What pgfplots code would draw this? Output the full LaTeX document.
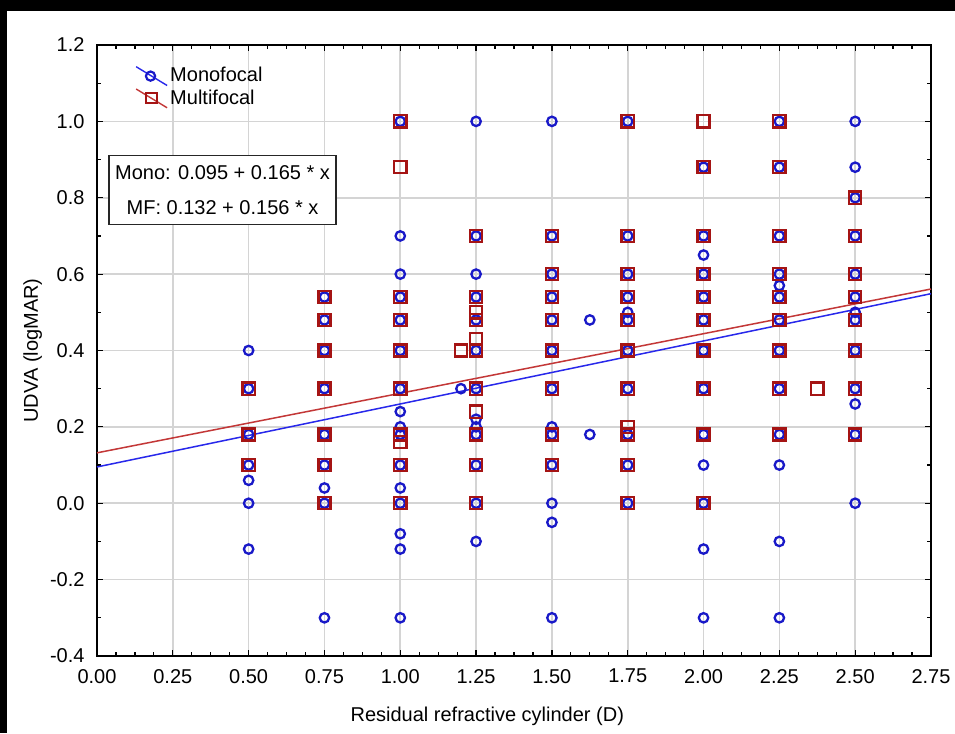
\documentclass[border=0pt]{standalone}
\usepackage{pgfplots}
\pgfplotsset{compat=1.18}
\usepackage{pgfplotstable}
\usepackage{fontspec}
\setmainfont{Liberation Sans}
\definecolor{monoc}{RGB}{25,25,200}
\definecolor{mfc}{RGB}{165,20,20}
\definecolor{monol}{RGB}{40,40,235}
\definecolor{mfl}{RGB}{195,55,55}
\definecolor{gridc}{RGB}{212,212,212}
\newcommand\ff{\fontsize{10}{12}\selectfont}

\pgfplotstableread{
x y
0.5 0.4
0.5 0.3
0.5 0.18
0.5 0.1
0.5 0.06
0.5 0
0.5 -0.12
0.75 0.54
0.75 0.48
0.75 0.4
0.75 0.3
0.75 0.18
0.75 0.1
0.75 0.04
0.75 0
0.75 -0.3
1.0 1.0
1.0 0.7
1.0 0.6
1.0 0.54
1.0 0.48
1.0 0.4
1.0 0.3
1.0 0.24
1.0 0.2
1.0 0.18
1.0 0.1
1.0 0.04
1.0 0
1.0 -0.08
1.0 -0.12
1.0 -0.3
1.2 0.3
1.25 1.0
1.25 0.7
1.25 0.6
1.25 0.54
1.25 0.48
1.25 0.4
1.25 0.3
1.25 0.22
1.25 0.2
1.25 0.18
1.25 0.1
1.25 0
1.25 -0.1
1.5 1.0
1.5 0.7
1.5 0.6
1.5 0.54
1.5 0.48
1.5 0.4
1.5 0.3
1.5 0.2
1.5 0.18
1.5 0.1
1.5 0
1.5 -0.05
1.5 -0.3
1.625 0.48
1.625 0.18
1.75 1.0
1.75 0.7
1.75 0.6
1.75 0.54
1.75 0.5
1.75 0.48
1.75 0.4
1.75 0.3
1.75 0.18
1.75 0.1
1.75 0
2.0 0.88
2.0 0.7
2.0 0.65
2.0 0.6
2.0 0.54
2.0 0.48
2.0 0.4
2.0 0.3
2.0 0.18
2.0 0.1
2.0 0
2.0 -0.12
2.0 -0.3
2.25 1.0
2.25 0.88
2.25 0.7
2.25 0.6
2.25 0.57
2.25 0.54
2.25 0.48
2.25 0.4
2.25 0.3
2.25 0.18
2.25 0.1
2.25 -0.1
2.25 -0.3
2.5 1.0
2.5 0.88
2.5 0.8
2.5 0.7
2.5 0.6
2.5 0.54
2.5 0.5
2.5 0.48
2.5 0.4
2.5 0.3
2.5 0.26
2.5 0.18
2.5 0
}\monotable

\pgfplotstableread{
x y
0.5 0.3
0.5 0.18
0.5 0.1
0.75 0.54
0.75 0.48
0.75 0.4
0.75 0.3
0.75 0.18
0.75 0.1
0.75 0
1.0 1.0
1.0 0.88
1.0 0.54
1.0 0.48
1.0 0.4
1.0 0.3
1.0 0.18
1.0 0.16
1.0 0.1
1.0 0
1.2 0.4
1.25 0.7
1.25 0.54
1.25 0.5
1.25 0.48
1.25 0.43
1.25 0.4
1.25 0.3
1.25 0.24
1.25 0.18
1.25 0.1
1.25 0
1.5 0.7
1.5 0.6
1.5 0.54
1.5 0.48
1.5 0.4
1.5 0.3
1.5 0.18
1.5 0.1
1.75 1.0
1.75 0.7
1.75 0.6
1.75 0.54
1.75 0.48
1.75 0.4
1.75 0.3
1.75 0.2
1.75 0.18
1.75 0.1
1.75 0
2.0 1.0
2.0 0.88
2.0 0.7
2.0 0.6
2.0 0.54
2.0 0.48
2.0 0.4
2.0 0.3
2.0 0.18
2.0 0
2.25 1.0
2.25 0.88
2.25 0.7
2.25 0.6
2.25 0.54
2.25 0.48
2.25 0.4
2.25 0.3
2.25 0.18
2.375 0.3
2.5 0.8
2.5 0.7
2.5 0.6
2.5 0.54
2.5 0.48
2.5 0.4
2.5 0.3
2.5 0.18
}\mftable

\begin{document}
\begin{tikzpicture}
\path[use as bounding box] (-48.5pt,-38.75pt) rectangle (429pt,328pt);
\fill[white] (-48.5pt,-38.75pt) rectangle (429pt,328pt);
\fill[black] (-48.5pt,322.5pt) rectangle (429pt,328pt);
\fill[black] (-48.5pt,-38.75pt) rectangle (-45pt,328pt);
\begin{axis}[
  scale only axis, width=417pt, height=305.5pt,
  at={(0pt,0pt)}, anchor=south west,
  xmin=0, xmax=2.75, ymin=-0.4, ymax=1.2,
  xtick={0,0.25,0.5,0.75,1,1.25,1.5,1.75,2,2.25,2.5,2.75},
  xticklabels={0.00,0.25,0.50,0.75,1.00,1.25,1.50,1.75,2.00,2.25,2.50,2.75},
  ytick={-0.4,-0.2,0,0.2,0.4,0.6,0.8,1.0,1.2},
  yticklabels={-0.4,-0.2,0.0,0.2,0.4,0.6,0.8,1.0,1.2},
  minor x tick num=3, minor y tick num=1,
  tick align=inside,
  major tick length=3pt, minor tick length=1.8pt,
  every tick/.style={black, line width=0.6pt},
  axis line style={black, line width=0.8pt},
  grid=major,
  major grid style={gridc, line width=0.8pt},
  ticklabel style={font=\ff},
  xticklabel style={yshift=-3pt},
  yticklabel style={xshift=-2.7pt},
  xlabel={Residual refractive cylinder (D)},
  ylabel={UDVA (logMAR)},
  label style={font=\ff},
  xlabel style={at={(axis description cs:0.468,-0.098)}, anchor=center},
  ylabel style={at={(axis description cs:-0.077,0.5)}, anchor=center},
  legend style={at={(axis description cs:0.0456,0.968)}, anchor=north west,
    draw=none, fill=none, inner sep=0pt, row sep=0pt,
    font=\ff, nodes={inner sep=1.2pt}},
  legend cell align=left,
]
\addlegendimage{legend image code/.code={
  \draw[monol, line width=0.7pt] (0pt,4.7pt) -- (15.5pt,-4.7pt);
  \draw[monoc, line width=1.1pt] (7.2pt,0pt) circle (2.3pt);}}
\addlegendentry{Monofocal}
\addlegendimage{legend image code/.code={
  \draw[mfl, line width=0.7pt] (0pt,4.7pt) -- (15.5pt,-4.7pt);
  \draw[mfc, line width=1.1pt] (5pt,-2.5pt) rectangle (10.4pt,2.7pt);}}
\addlegendentry{Multifocal}

\addplot[only marks, mark=o, mark size=2.35pt, monoc, line width=1.15pt, forget plot] table[x=x,y=y] {\monotable};
\addplot[only marks, mark=square, mark size=3.05pt, mfc, line width=1.15pt, forget plot] table[x=x,y=y] {\mftable};
\addplot[monol, line width=0.75pt, forget plot] coordinates {(0,0.095) (2.75,0.54875)};
\addplot[mfl, line width=0.75pt, forget plot] coordinates {(0,0.132) (2.75,0.561)};

\node[draw=black!85, line width=0.8pt, fill=white, align=center, font=\ff,
      inner xsep=3pt, inner ysep=5pt]
  at (axis cs:0.414,0.82) {Mono: 0.095 + 0.165 * x\\[5.5pt]MF: 0.132 + 0.156 * x};
\end{axis}
\end{tikzpicture}
\end{document}
